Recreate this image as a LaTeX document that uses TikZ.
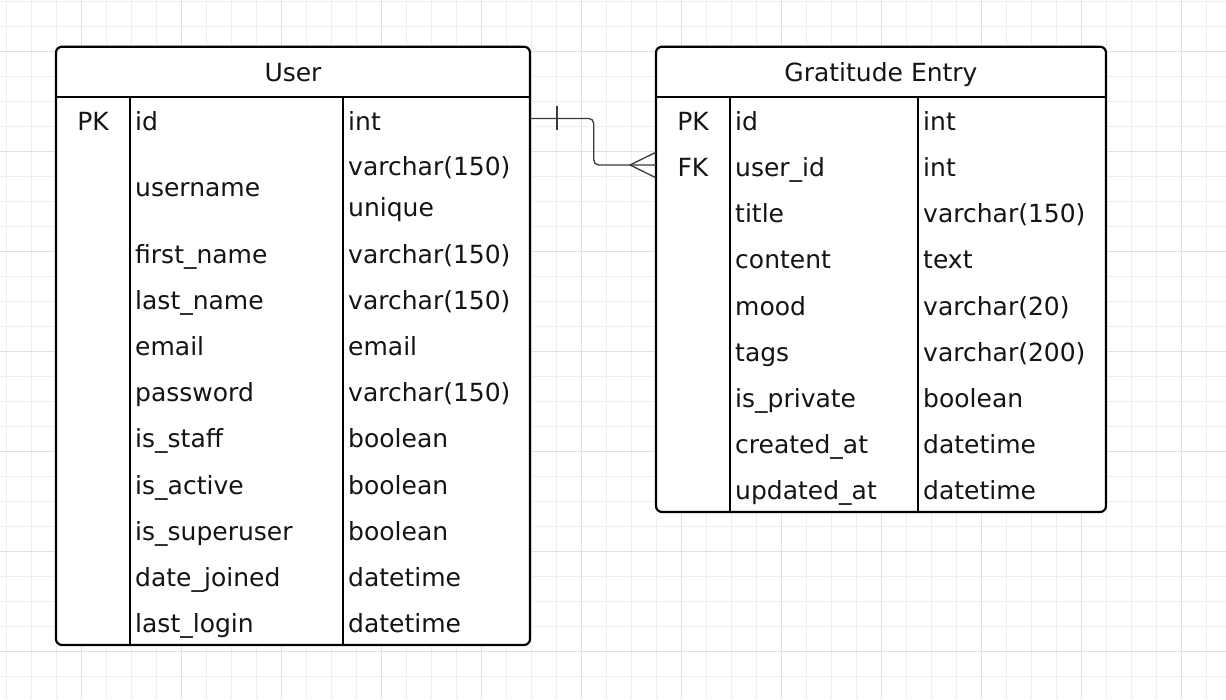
\documentclass[tikz,border=0pt]{standalone}
\usepackage{fontspec}
\usepackage{tikz}
\usetikzlibrary{calc}
\newfontfamily\erfont{DejaVu Sans}
\def\cellfont{\erfont\fontsize{25}{41}\selectfont}
\definecolor{gridminor}{HTML}{EEEEEE}
\definecolor{gridmajor}{HTML}{E0E0E0}
\definecolor{relline}{HTML}{36393D}
\definecolor{cellink}{HTML}{141414}
\tikzset{
	tblline/.style={line width=2.2pt, color=black},
	relpath/.style={line width=1.3pt, color=relline},
	cell/.style={anchor=west, inner sep=0pt, text height=18.2pt, text depth=0pt, text=cellink, font=\cellfont},
	twolinecell/.style={anchor=north west, inner sep=0pt, align=left, text=cellink, font=\cellfont},
	keycell/.style={cell, anchor=center},
	headcell/.style={cell, anchor=center}
}

\begin{document}
\begin{tikzpicture}[x=1pt, y=-1pt]
			%%%%% START %%%%%
			
			\useasboundingbox (0, 0) rectangle (1226, 699);
			\fill[white] (0, 0) rectangle (1226, 699);
			
			% grid
			\foreach \x in {6.7,31.7,...,1226} \draw[line width=1pt, color=gridminor] (\x, 0) -- (\x, 699);
			\foreach \y in {1.7,26.7,...,699} \draw[line width=1pt, color=gridminor] (0, \y) -- (1226, \y);
			\foreach \x in {81.7,181.7,...,1226} \draw[line width=1pt, color=gridmajor] (\x, 0) -- (\x, 699);
			\foreach \y in {51.7,151.7,...,699} \draw[line width=1pt, color=gridmajor] (0, \y) -- (1226, \y);
			
			% User table
			\draw[tblline, fill=white, rounded corners=6pt] (56, 46.7) rectangle (530, 645);
			\draw[tblline] (56, 96.7) -- (530, 96.7);
			\draw[tblline] (130, 96.7) -- (130, 645);
			\draw[tblline] (343, 96.7) -- (343, 645);
			
			\node[headcell] (user-head) at (293, 72) {User};
			
			\node[keycell] (user-pk) at (93, 121.3) {PK};
			\node[cell] (user-id) at (135, 121.3) {id};
			\node[cell] (user-id-t) at (348, 121.3) {int};
			\node[cell] (user-username) at (135, 187.7) {username};
			\node[twolinecell] (user-username-t) at (348, 156.2) {varchar(150)\\unique};
			\node[cell] (user-first) at (135, 254.2) {first\_name};
			\node[cell] (user-first-t) at (348, 254.2) {varchar(150)};
			\node[cell] (user-last) at (135, 300.4) {last\_name};
			\node[cell] (user-last-t) at (348, 300.4) {varchar(150)};
			\node[cell] (user-email) at (135, 346.5) {email};
			\node[cell] (user-email-t) at (348, 346.5) {email};
			\node[cell] (user-pass) at (135, 392.7) {password};
			\node[cell] (user-pass-t) at (348, 392.7) {varchar(150)};
			\node[cell] (user-staff) at (135, 438.8) {is\_staff};
			\node[cell] (user-staff-t) at (348, 438.8) {boolean};
			\node[cell] (user-active) at (135, 485) {is\_active};
			\node[cell] (user-active-t) at (348, 485) {boolean};
			\node[cell] (user-super) at (135, 531.1) {is\_superuser};
			\node[cell] (user-super-t) at (348, 531.1) {boolean};
			\node[cell] (user-joined) at (135, 577.3) {date\_joined};
			\node[cell] (user-joined-t) at (348, 577.3) {datetime};
			\node[cell] (user-login) at (135, 623.4) {last\_login};
			\node[cell] (user-login-t) at (348, 623.4) {datetime};
			
			% Gratitude Entry table
			\draw[tblline, fill=white, rounded corners=6pt] (656, 46.7) rectangle (1106, 512);
			\draw[tblline] (656, 96.7) -- (1106, 96.7);
			\draw[tblline] (730, 96.7) -- (730, 512);
			\draw[tblline] (918, 96.7) -- (918, 512);
			
			\node[headcell] (entry-head) at (881, 72) {Gratitude Entry};
			
			\node[keycell] (entry-pk) at (693, 121.3) {PK};
			\node[cell] (entry-id) at (735, 121.3) {id};
			\node[cell] (entry-id-t) at (923, 121.3) {int};
			\node[keycell] (entry-fk) at (693, 167.4) {FK};
			\node[cell] (entry-user) at (735, 167.4) {user\_id};
			\node[cell] (entry-user-t) at (923, 167.4) {int};
			\node[cell] (entry-title) at (735, 213.6) {title};
			\node[cell] (entry-title-t) at (923, 213.6) {varchar(150)};
			\node[cell] (entry-content) at (735, 259.7) {content};
			\node[cell] (entry-content-t) at (923, 259.7) {text};
			\node[cell] (entry-mood) at (735, 305.9) {mood};
			\node[cell] (entry-mood-t) at (923, 305.9) {varchar(20)};
			\node[cell] (entry-tags) at (735, 352) {tags};
			\node[cell] (entry-tags-t) at (923, 352) {varchar(200)};
			\node[cell] (entry-private) at (735, 398.1) {is\_private};
			\node[cell] (entry-private-t) at (923, 398.1) {boolean};
			\node[cell] (entry-created) at (735, 444.3) {created\_at};
			\node[cell] (entry-created-t) at (923, 444.3) {datetime};
			\node[cell] (entry-updated) at (735, 490.4) {updated\_at};
			\node[cell] (entry-updated-t) at (923, 490.4) {datetime};
			
			% relation: one User to many entries
			\coordinate (user-id-out) at (530, 118.4);
			\coordinate (entry-fk-in) at (656, 165);
			
			\draw[relpath, rounded corners=5pt] (user-id-out) -- ($(user-id-out)+(63.7, 0)$) |- (entry-fk-in);
			\draw[relpath] ($(user-id-out)+(27, -12)$) -- ++(0, 24);
			\draw[relpath] ($(entry-fk-in)+(0, -12.8)$) -- ($(entry-fk-in)+(-26, 0)$) -- ($(entry-fk-in)+(0, 12.8)$);
			
			%%%%% END %%%%%
		\end{tikzpicture}
\end{document}
